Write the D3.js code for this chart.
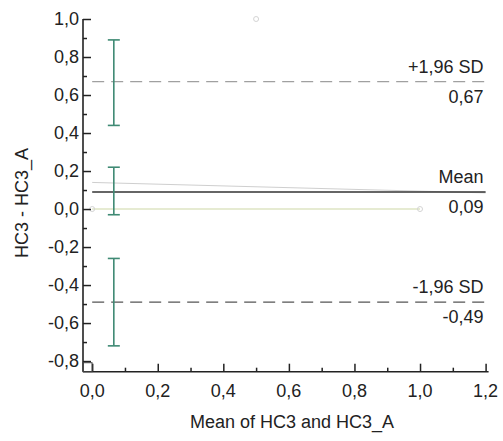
<!DOCTYPE html>
<html>
<head>
<meta charset="utf-8">
<script src="https://cdn.jsdelivr.net/npm/d3@7"></script>
<style>
  body { margin: 0; background: #fff; }
  text { font-family: "Liberation Sans", Arial, sans-serif; fill: #222; }
</style>
</head>
<body>
<div id="chart"></div>
<script>
// Bland-Altman: HC3 vs HC3_A
const xTicks = [0, 0.2, 0.4, 0.6, 0.8, 1.0, 1.2];
const xMinor = [0.1, 0.3, 0.5, 0.7, 0.9, 1.1];
const yTicks = [-0.8, -0.6, -0.4, -0.2, 0, 0.2, 0.4, 0.6, 0.8, 1.0];
const yMinor = [-0.7, -0.5, -0.3, -0.1, 0.1, 0.3, 0.5, 0.7, 0.9];
const pointX = [0, 0.5, 1.0];
const pointY = [0, 1.0, 0];
const lineNames = ['+1,96 SD', 'Mean', '-1,96 SD'];
const lineValues = [0.67, 0.09, -0.49];
const ciLow = [0.44, -0.03, -0.72];
const ciHigh = [0.89, 0.22, -0.26];
const ciX = 0.066;
const regX = [0, 1.2];
const regY = [0.14, 0.085];

const width = 503, height = 441;
const fs = 18;
const locale = d3.formatLocale({decimal: ',', thousands: '.', grouping: [3], currency: ['', ''], minus: '-'});
const f1 = locale.format('.1f');
const f2 = locale.format('.2f');

const x = d3.scaleLinear().domain([-0.028, 1.2]).range([83, 485.6]);
const y = d3.scaleLinear().domain([-0.856, 1.0]).range([371.7, 19]);

const svg = d3.select('#chart').append('svg').attr('width', width).attr('height', height);

// line of equality (faint)
svg.append('line')
  .attr('x1', x(0)).attr('x2', x(1.0)).attr('y1', y(0)).attr('y2', y(0))
  .attr('stroke', '#e6ebd2').attr('stroke-width', 2);

// regression line (faint)
svg.append('line')
  .attr('x1', x(regX[0])).attr('x2', x(regX[1])).attr('y1', y(regY[0])).attr('y2', y(regY[1]))
  .attr('stroke', '#cfcfcf').attr('stroke-width', 1);

// limit lines
const dashStyle = ['12,7', null, '12,7'];
const lineColor = ['#a0a0a0', '#333', '#555'];
lineValues.forEach((v, i) => {
  svg.append('line')
    .attr('x1', x(0)).attr('x2', x(1.2)).attr('y1', y(v)).attr('y2', y(v))
    .attr('stroke', lineColor[i]).attr('stroke-width', i === 1 ? 1.6 : 1.2)
    .attr('stroke-dasharray', dashStyle[i]);
  svg.append('text').attr('x', x(1.2) - 2).attr('y', y(v) - 9)
    .attr('text-anchor', 'end').attr('font-size', fs).text(lineNames[i]);
  svg.append('text').attr('x', x(1.2) - 2).attr('y', y(v) + 21)
    .attr('text-anchor', 'end').attr('font-size', fs).text(f2(v));
});

// confidence interval bars
const ciColor = '#3f8a74';
ciLow.forEach((lo, i) => {
  const g = svg.append('g').attr('stroke', ciColor).attr('stroke-width', 1.6);
  g.append('line').attr('x1', x(ciX)).attr('x2', x(ciX)).attr('y1', y(lo)).attr('y2', y(ciHigh[i]));
  [lo, ciHigh[i]].forEach(v => {
    g.append('line').attr('x1', x(ciX) - 6).attr('x2', x(ciX) + 6).attr('y1', y(v)).attr('y2', y(v));
  });
});

// data points (faint)
svg.selectAll('.pt').data(pointX).enter().append('circle')
  .attr('cx', d => x(d)).attr('cy', (d, i) => y(pointY[i])).attr('r', 2.5)
  .attr('fill', 'none').attr('stroke', '#d4d4d4').attr('stroke-width', 1);

// axes
const yAxis = svg.append('g').attr('transform', `translate(${x.range()[0]},0)`);
yAxis.append('g').call(d3.axisRight(y).tickValues(yTicks).tickSize(8).tickFormat(''));
yAxis.append('g').call(d3.axisRight(y).tickValues(yMinor).tickSize(4).tickFormat(''));
yAxis.selectAll('.domain').remove();
yAxis.append('line').attr('y1', y.range()[0]).attr('y2', y.range()[1]).attr('stroke', '#222').attr('stroke-width', 1.6);
yAxis.selectAll('.tick line').attr('stroke', '#222').attr('stroke-width', 1.5);

yTicks.forEach(v => {
  svg.append('text').attr('x', 79).attr('y', y(v) + 6)
    .attr('text-anchor', 'end').attr('font-size', fs).text(f1(v));
});

const xAxis = svg.append('g').attr('transform', `translate(0,${y.range()[0]})`);
xAxis.append('g').call(d3.axisTop(x).tickValues(xTicks).tickSize(8).tickFormat(''));
xAxis.append('g').call(d3.axisTop(x).tickValues(xMinor).tickSize(4).tickFormat(''));
xAxis.selectAll('.domain').remove();
xAxis.append('line').attr('x1', x.range()[0]).attr('x2', x.range()[1] + 3).attr('stroke', '#222').attr('stroke-width', 1.6);
xAxis.selectAll('.tick line').attr('stroke', '#222').attr('stroke-width', 1.5);

xTicks.forEach(v => {
  svg.append('text').attr('x', x(v)).attr('y', 397)
    .attr('text-anchor', 'middle').attr('font-size', fs).text(f1(v));
});

// small corner box
svg.append('rect').attr('x', x.range()[0]).attr('y', y.range()[0] - 9).attr('width', 9).attr('height', 9)
  .attr('fill', 'none').attr('stroke', '#444').attr('stroke-width', 1);

// titles
svg.append('text').attr('x', 292).attr('y', 428).attr('text-anchor', 'middle')
  .attr('font-size', fs).text('Mean of HC3 and HC3_A');
svg.append('text').attr('transform', 'translate(28,203) rotate(-90)').attr('text-anchor', 'middle')
  .attr('font-size', fs).text('HC3 - HC3_A');
</script>
</body>
</html>
